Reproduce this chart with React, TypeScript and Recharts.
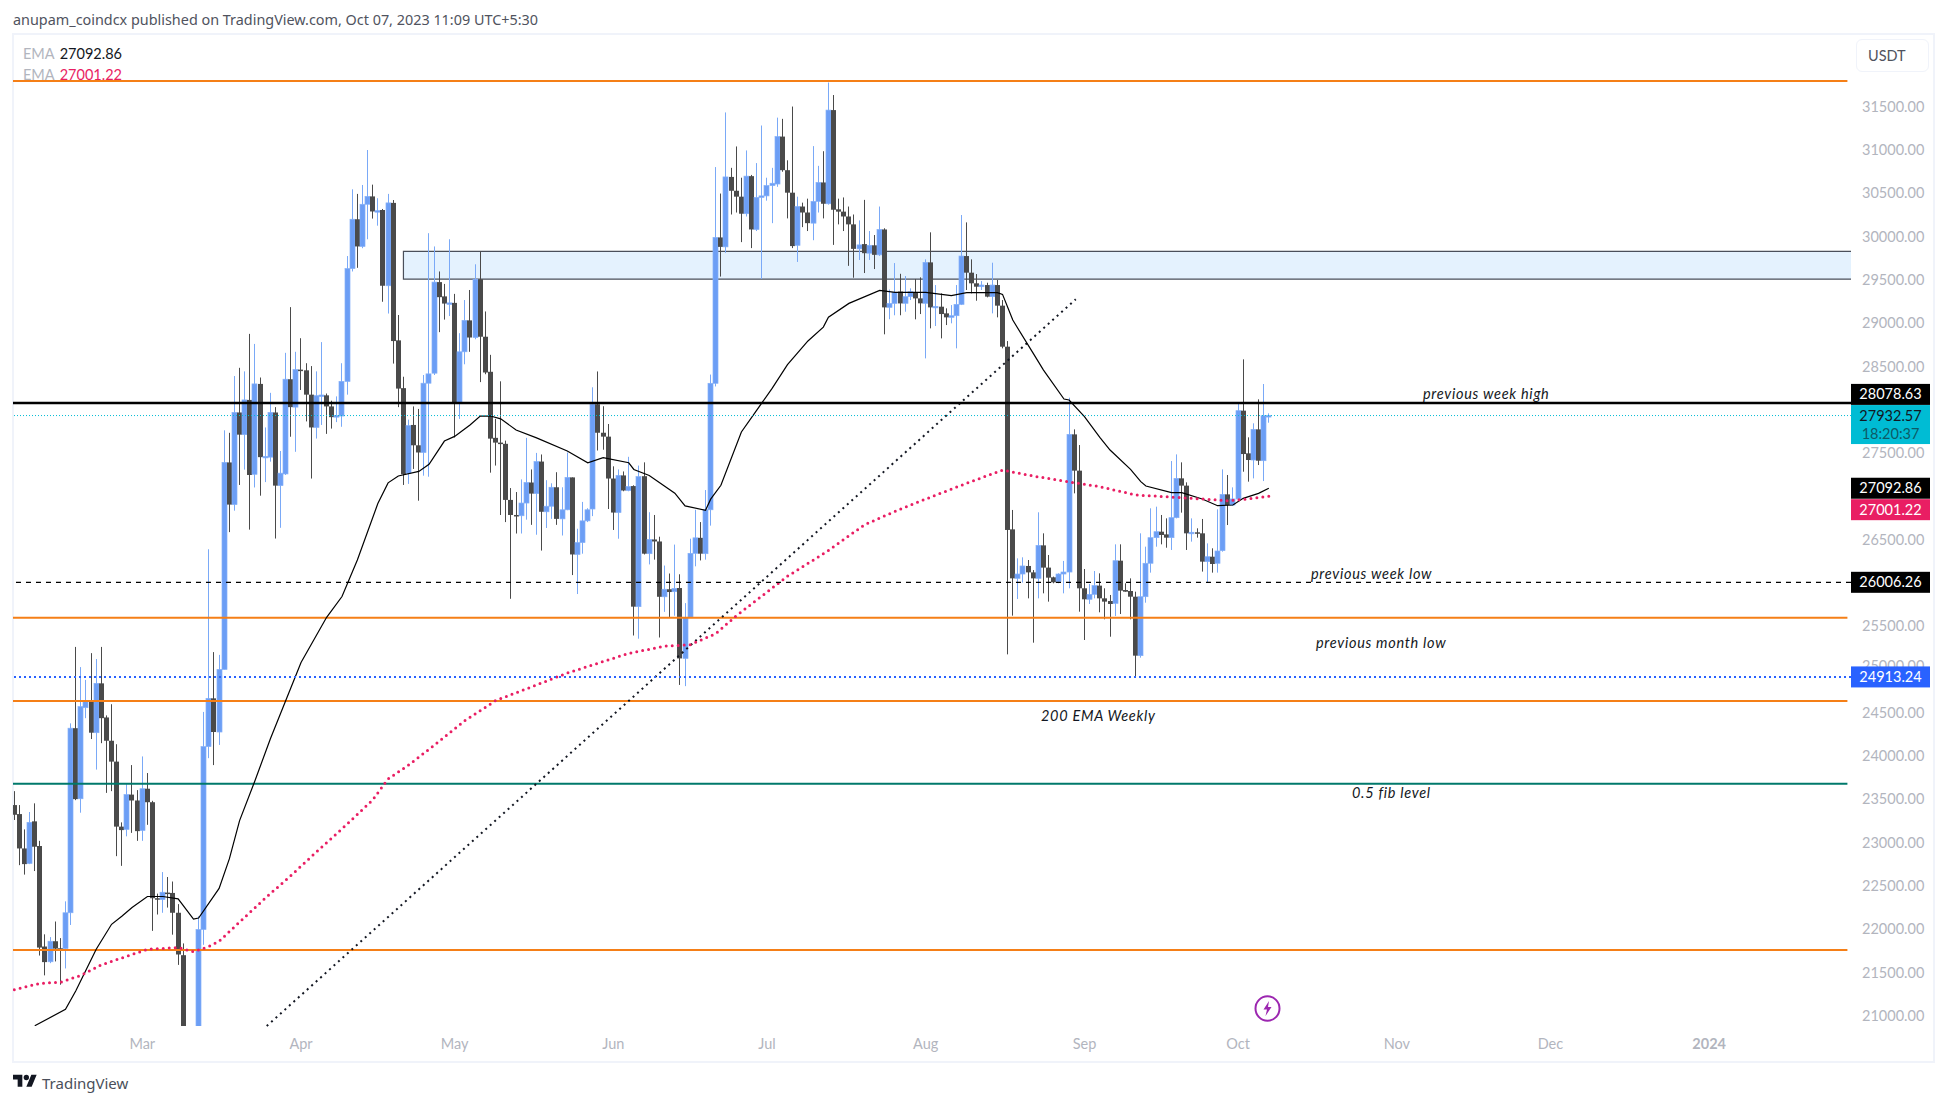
import {
  Bar,
  ComposedChart,
  Line,
  ReferenceArea,
  ReferenceLine,
  XAxis,
  YAxis,
} from "recharts";

const opens = [
  23433,23329,22932,22759,23245,22960,21799,21623,21860,21779,
  21775,22189,24321,23506,24558,24634,24269,24839,24445,24176,
  23935,23184,23152,23554,23486,23140,23622,23466,22357,22341,
  22422,22418,22189,21699,20150,20450,20620,21996,24108,24666,
  24277,25000,27391,26904,27968,27712,28113,27254,28298,27444,
  27452,27968,27123,27258,28352,28030,28463,28455,28174,27795,
  28162,28166,28038,27914,27927,28327,29630,30200,29886,30373,
  30464,30290,30307,29432,30389,28801,28249,27267,27824,27589,
  27506,28306,28422,29474,29309,29226,29234,28080,28669,29032,
  28834,29507,28843,28438,27675,27620,27606,26958,26784,26775,
  26922,27159,27031,27401,26821,26885,27104,26739,26844,27218,
  26328,26465,26716,26853,28063,27734,27689,27205,26812,27241,
  27067,27118,25725,27232,26337,26501,26478,25839,25926,25898,
  25940,25127,25597,26341,26520,26337,26844,28305,29990,29881,
  30689,30529,30461,30264,30698,30082,30452,30470,30589,30607,
  31155,30767,30507,29899,30347,30278,30155,30406,30625,30379,
  31461,30315,30288,30232,30141,29858,29913,29808,29899,29789,
  30082,29182,29228,29365,29229,29306,29352,29286,29229,29702,
  29182,29190,29113,29067,29086,29217,29775,29583,29460,29421,
  29440,29306,29440,29202,28728,26618,26052,26102,26195,26121,
  26052,26433,26176,26064,26014,26102,26125,27715,27296,25937,
  25810,25867,25968,25821,25790,25763,26256,25917,25906,25840,
  25159,25840,26226,26522,26591,26560,26522,26753,27207,27123,
  26572,26584,26572,26245,26302,26226,26372,27022,26899,26969,
  27989,27496,27419,27773,27411,27931,
];

const highs = [
  23594,23433,23152,23353,23453,23020,21940,21908,22088,21896,
  22321,24377,25260,25027,24879,25188,25120,25260,24469,24598,
  24136,23233,23674,23895,23606,23995,23803,23482,22410,22659,
  22602,22550,22289,21835,20700,20800,22149,24509,26388,25200,
  25168,27762,27733,28389,28484,28443,28876,28760,28372,27795,
  28195,28030,27523,28657,29185,28669,28826,28537,28504,28443,
  28781,28187,28104,28154,28537,29775,30546,30493,30596,31000,
  30600,30443,30319,30493,30422,29094,28381,27886,28038,28009,
  28401,30039,29886,29597,29453,29969,29338,28884,29267,29383,
  29680,29828,29135,28634,27894,28328,27643,27095,27049,27195,
  27675,27310,27501,27483,27186,27150,27278,27104,27506,27218,
  26625,26935,26862,28259,28442,28040,27835,27346,27310,27287,
  27456,27127,27355,27392,26816,26784,26533,26200,26108,26442,
  26099,25766,26510,26844,26702,27072,28406,30803,30497,31434,
  30794,31041,30680,30995,30712,30849,31283,30680,30794,31374,
  31360,30881,31502,30461,30392,30438,31045,30817,30986,31780,
  31635,30438,30452,30347,30255,30187,30424,30064,30018,30347,
  30096,29388,29694,29570,29544,29402,29510,29529,29737,30049,
  29440,29344,29171,29209,29440,30249,30164,29737,29567,29486,
  29467,29698,29498,29267,28793,26842,26283,26295,26264,26148,
  26815,26572,26322,26072,26110,26253,28139,27773,27592,26160,
  25987,26137,26110,25937,25860,26445,26445,25995,26052,25898,
  26572,26418,26861,26880,26784,26745,27407,27484,27392,27161,
  26745,26630,26738,26456,26399,26849,27311,27246,27103,28066,
  28582,27681,27843,28120,28297,27958,
];

const lows = [
  23261,22739,22630,22751,22671,21695,21466,21607,21627,21358,
  21546,22048,23490,23345,24437,24196,23843,24148,23574,23594,
  22843,22731,23072,23112,23020,23020,23205,21980,22169,22189,
  22249,21936,21587,20050,19600,20300,20500,21819,23975,23895,
  24128,25000,26586,26834,27131,27308,26615,27102,27007,27164,
  27400,26512,26636,27246,27688,27514,28228,27865,27205,27667,
  27824,27721,27782,27857,27803,28174,29597,29639,29866,29969,
  30208,30126,29247,29111,28533,28030,27131,27143,27316,26949,
  27238,27226,28401,28896,29041,29082,27679,27894,28525,28669,
  28814,28319,28410,27273,27355,26784,26702,25816,26570,26570,
  26730,26670,26556,26373,26634,26739,26670,26547,26839,26090,
  25871,26337,26702,26771,27529,27538,26853,26611,26510,27058,
  27058,25392,25355,26328,26213,26268,25369,25665,25606,25620,
  24821,24807,25597,26191,26259,26268,26661,28269,29538,29812,
  30255,30278,29936,30232,29867,30064,29511,30415,30155,30575,
  30749,30210,29867,29707,30109,30064,29958,30278,30210,30369,
  29904,30141,30064,29662,29525,29730,29579,29730,29625,29776,
  28871,29045,29091,29091,29132,29267,29044,29105,28593,28940,
  28967,28824,28978,28998,28709,29209,29383,29344,29259,29383,
  29298,29113,29067,28709,25174,25621,25814,26003,25821,25309,
  25821,25879,25783,25995,25995,25879,25937,27034,25667,25340,
  25756,25821,25660,25579,25378,25617,25640,25898,25579,24909,
  25136,25771,26118,26418,26445,26406,26380,26745,26811,26380,
  26476,26522,26130,26002,26118,26118,26360,26668,26891,26957,
  27284,27169,27207,27361,27176,27850,
];

const closes = [
  23321,22932,22751,23233,22952,21787,21619,21860,21775,21763,
  22189,24321,23502,24570,24634,24269,24839,24437,24176,23935,
  23184,23144,23554,23486,23132,23622,23466,22357,22341,22426,
  22418,22189,21707,20150,20450,20620,21996,24108,24666,24277,
  25000,27391,26904,27968,27712,28113,27246,28298,27452,27461,
  27968,27123,27267,28352,28030,28463,28455,28174,27795,28162,
  28170,28038,27914,27935,28327,29630,30200,29886,30373,30464,
  30290,30299,29432,30389,28793,28244,27254,27816,27589,27506,
  28306,28414,29474,29300,29226,29234,28080,28669,29032,28834,
  29507,28843,28430,27666,27620,27606,26958,26784,26775,26922,
  27159,27031,27401,26821,26885,27104,26739,26844,27218,26328,
  26465,26716,26844,28063,27734,27689,27205,26812,27241,27067,
  27113,25725,27227,26337,26501,26478,25839,25926,25894,25935,
  25127,25597,26341,26520,26337,26844,28305,29990,29881,30689,
  30529,30461,30264,30698,30082,30452,30470,30589,30616,31155,
  30767,30507,29890,30347,30278,30155,30406,30625,30379,31461,
  30310,30288,30232,30141,29858,29904,29808,29899,29789,30082,
  29182,29228,29356,29228,29306,29363,29286,29229,29702,29182,
  29194,29105,29067,29086,29217,29775,29583,29460,29421,29440,
  29306,29440,29202,28728,26611,26052,26102,26195,26121,26052,
  26433,26176,26060,26006,26102,26125,27715,27296,25937,25810,
  25867,25968,25821,25783,25756,26256,25910,25898,25840,25159,
  25840,26226,26522,26591,26553,26522,26753,27207,27123,26572,
  26584,26572,26245,26302,26218,26368,27022,26899,26969,27989,
  27488,27419,27773,27411,27931,27932.57,
];

// candle number -> value, every few candles
const ema50Days = [
  4,10,12,16,19,21,23,26,29,32,35,36,40,42,44,47,50,53,56,61,64,67,71,73,75,79,81,84,86,89,91,93,95,98,
  102,108,112,115,120,121,124,129,131,135,136,138,142,148,151,155,158,159,163,169,172,178,183,186,192,
  193,195,199,201,205,206,209,212,214,218,220,221,226,228,232,235,238,240,243,245,
];
const ema50Values = [
  20884,21073,21285,21767,22056,22149,22249,22377,22377,22349,22116,22128,22470,22811,23253,23714,24196,
  24638,25080,25602,25842,26264,26916,27155,27234,27287,27370,27638,27692,27824,27927,27927,27894,27766,
  27675,27524,27387,27446,27387,27310,27241,27036,26889,26839,26967,27127,27743,28246,28520,28794,28954,
  29068,29228,29379,29356,29356,29319,29352,29352,29332,29036,28651,28458,28124,28112,27920,27681,27534,
  27311,27169,27119,27042,27042,26969,26891,26899,26976,27034,27092.86,
];
const ema200Days = [
  0,5,9,13,17,23,26,32,35,38,40,45,49,54,59,65,70,73,77,82,88,94,101,108,114,120,127,132,137,141,147,151,
  159,166,173,180,186,193,199,205,212,219,225,232,237,241,245,
];
const ema200Values = [
  21301,21374,21386,21466,21587,21707,21767,21787,21739,21799,21860,22137,22357,22618,22891,23213,23494,
  23735,23895,24124,24409,24640,24798,24958,25072,25186,25268,25286,25414,25620,25894,26076,26373,26670,
  26851,27015,27150,27303,27234,27176,27111,27015,26995,26969,26949,26969,27001.22,
];

// 25000 sits half behind the blue price tag, 26000, 27000 and 28000 sit fully behind their tags
const priceTicks = [
  21000,21500,22000,22500,23000,23500,24000,24500,25500,26500,
  27500,28500,29000,29500,30000,30500,31000,31500,
];
const hiddenTick = 25000;
const monthTicks = [25,56,86,117,147,178,209,239,270,300,331];
const monthLabels = ["Mar","Apr","May","Jun","Jul","Aug","Sep","Oct","Nov","Dec","2024"];

const orangeLevels = [31797,25597,24634,21759];
const fibLevel = 23678;
const weekHigh = 28078.63;
const weekLow = 26006.26;
const monthLow = 24913.24;
const lastPrice = 27932.57;
const emaFast = 27092.86;
const emaSlow = 27001.22;

const tableData = opens.map((open, i) => {
  const a = ema50Days.indexOf(i);
  const b = ema200Days.indexOf(i);
  return {
    i,
    open,
    close: closes[i],
    high: highs[i],
    low: lows[i],
    range: [lows[i], highs[i]],
    ema50: a >= 0 ? ema50Values[a] : null,
    ema200: b >= 0 ? ema200Values[b] : null,
  };
});

const UI_FONT = "Lato, 'Noto Sans', sans-serif";
const BLUE = "#6c9ef5";
const DARK = "#4a4a4a";
const AXIS_GREY = "#b2b5be";

const Candle = (props: any) => {
  const { x, y, width, height, payload } = props;
  const { open, close, high, low } = payload;
  const up = close >= open;
  const perUnit = height / (high - low);
  const top = y + (high - Math.max(open, close)) * perUnit;
  const bottom = y + (high - Math.min(open, close)) * perUnit;
  const cx = Math.round(x + width / 2 - 0.5);
  return (
    <g>
      <rect x={cx} y={y} width={1} height={height} fill={up ? "#7aa9f7" : DARK} />
      <rect
        x={cx - 2}
        y={top}
        width={5}
        height={Math.max(bottom - top, 1.5)}
        fill={up ? BLUE : DARK}
        stroke={up ? "#85b0f8" : DARK}
        strokeWidth={up ? 0.7 : 0}
      />
    </g>
  );
};

const badge = (text: string, bg: string, color: string, shift: number, sub?: string) => (props: any) => {
  const { viewBox } = props;
  const left = viewBox.x + viewBox.width;
  const top = viewBox.y + shift - 10.5;
  return (
    <g>
      <rect x={left} y={top} width={79} height={sub ? 39 : 21} fill={bg} />
      <text x={left + 39.5} y={top + 10.5} dy="0.35em" textAnchor="middle" fontSize={14.5} fontFamily={UI_FONT} fill={color}>
        {text}
      </text>
      {sub ? (
        <text x={left + 39.5} y={top + 29} dy="0.35em" textAnchor="middle" fontSize={14.5} fontFamily={UI_FONT} fill="#0d5a66">
          {sub}
        </text>
      ) : null}
    </g>
  );
};

const priceLabel = (props: any) => {
  const { viewBox } = props;
  return (
    <text x={viewBox.x + viewBox.width + 11} y={viewBox.y - 4} dy="0.355em" fontSize={14.5} fontFamily={UI_FONT} fill={AXIS_GREY}>
      {hiddenTick.toFixed(2)}
    </text>
  );
};

const MonthTick = (props: any) => {
  const { x, y, payload } = props;
  const label = monthLabels[monthTicks.indexOf(payload.value)];
  return (
    <text
      x={x}
      y={y + 9.5}
      dy="0.35em"
      textAnchor="middle"
      fontSize={14.5}
      fontFamily={UI_FONT}
      fontWeight={label === "2024" ? 700 : 400}
      fill={AXIS_GREY}
    >
      {label}
    </text>
  );
};

const notes = [
  { text: "previous week high", x: 1423, y: 395 },
  { text: "previous week low", x: 1311, y: 575 },
  { text: "previous month low", x: 1316, y: 644 },
  { text: "200 EMA Weekly", x: 1041, y: 717 },
  { text: "0.5 fib level", x: 1352, y: 794 },
];

export default function App() {
  return (
    <div style={{ position: "absolute", left: 0, top: 0, width: 1946, height: 1105, background: "#fff", overflow: "hidden", fontFamily: UI_FONT }}>
      <div style={{ position: "absolute", left: 13, top: 10, fontSize: 14.4, color: "#50535e", whiteSpace: "nowrap", fontFamily: "'Noto Sans', sans-serif" }}>
        anupam_coindcx published on TradingView.com, Oct 07, 2023 11:09 UTC+5:30
      </div>
      <div style={{ position: "absolute", left: 12, top: 33, width: 1919, height: 1026, border: "2px solid #f0f3fa" }} />
      <div style={{ position: "absolute", left: 23, top: 45, fontSize: 14.5, whiteSpace: "nowrap" }}>
        <span style={{ color: AXIS_GREY, marginRight: 5 }}>EMA</span>
        <span style={{ color: "#131722" }}>27092.86</span>
      </div>
      <div style={{ position: "absolute", left: 23, top: 66, fontSize: 14.5, whiteSpace: "nowrap" }}>
        <span style={{ color: AXIS_GREY, marginRight: 5 }}>EMA</span>
        <span style={{ color: "#e91e63" }}>27001.22</span>
      </div>

      <div style={{ position: "absolute", left: 0, top: 0 }}>
        <ComposedChart
          width={1946}
          height={1105}
          data={tableData}
          margin={{ top: 34, right: 13, bottom: 44, left: 13 }}
          barSize={5}
        >
          <XAxis
            dataKey="i"
            type="number"
            domain={[-0.25, 358.7]}
            allowDataOverflow
            ticks={monthTicks}
            interval={0}
            height={35}
            tickLine={false}
            axisLine={false}
            tick={MonthTick}
          />
          <YAxis
            orientation="right"
            type="number"
            domain={[20881, 32340]}
            allowDataOverflow
            ticks={priceTicks}
            interval={0}
            width={82}
            tickSize={0}
            tickMargin={11}
            axisLine={false}
            tick={{ fill: AXIS_GREY, fontSize: 14.5, fontFamily: UI_FONT }}
            tickFormatter={(v: number) => v.toFixed(2)}
          />

          <Bar dataKey="range" shape={Candle} isAnimationActive={false} />

          <ReferenceArea
            x1={76}
            x2={362}
            y1={29508}
            y2={29828}
            ifOverflow="hidden"
            fill="#2196f3"
            fillOpacity={0.12}
            stroke="#4a4f5a"
            strokeWidth={1.2}
          />

          {orangeLevels.map((level) => (
            <ReferenceLine
              key={level}
              segment={[{ x: -0.25, y: level }, { x: 358, y: level }]}
              stroke="#f57f17"
              strokeWidth={2}
            />
          ))}
          <ReferenceLine
            segment={[{ x: -0.25, y: fibLevel }, { x: 358, y: fibLevel }]}
            stroke="#00796b"
            strokeWidth={2}
          />
          <ReferenceLine
            segment={[{ x: 49.3, y: 20881 }, { x: 207.3, y: 29275 }]}
            stroke="#131722"
            strokeWidth={2}
            strokeDasharray="2 4"
          />

          <Line dataKey="ema50" stroke="#000" strokeWidth={1.2} dot={false} connectNulls isAnimationActive={false} />
          <Line
            dataKey="ema200"
            stroke="#e91e63"
            strokeWidth={3}
            strokeDasharray="0 6"
            strokeLinecap="round"
            dot={false}
            connectNulls
            isAnimationActive={false}
          />

          <ReferenceLine y={lastPrice} stroke="#00bcd4" strokeWidth={1} strokeDasharray="1 2" label={badge("27932.57", "#00bcd4", "#131722", 0, "18:20:37")} />
          <ReferenceLine y={weekHigh} stroke="#000" strokeWidth={2.5} label={badge("28078.63", "#000", "#fff", -8.5)} />
          <ReferenceLine y={weekLow} stroke="#000" strokeWidth={1.2} strokeDasharray="5 5" label={badge("26006.26", "#000", "#fff", 0)} />
          <ReferenceLine y={hiddenTick} stroke="none" label={priceLabel} />
          <ReferenceLine y={monthLow} stroke="#2962ff" strokeWidth={2} strokeDasharray="2 3" label={badge("24913.24", "#2962ff", "#fff", 0)} />
          <ReferenceLine y={emaFast} stroke="none" label={badge("27092.86", "#000", "#fff", 0)} />
          <ReferenceLine y={emaSlow} stroke="none" label={badge("27001.22", "#e91e63", "#fff", 13.5)} />
        </ComposedChart>
      </div>

      {notes.map((n) => (
        <div
          key={n.text}
          style={{ position: "absolute", left: n.x, top: n.y - 10, fontSize: 14.5, fontStyle: "italic", color: "#131722", whiteSpace: "nowrap", letterSpacing: 0.7 }}
        >
          {n.text}
        </div>
      ))}

      <div style={{ position: "absolute", left: 1856, top: 39, width: 71, height: 31, border: "1.5px solid #f0f3fa", borderRadius: 6, fontSize: 14.5, lineHeight: "31px", color: "#50535e", textIndent: 11 }}>
        USDT
      </div>

      <svg style={{ position: "absolute", left: 1254, top: 995 }} width={27} height={27} viewBox="0 0 27 27">
        <ellipse cx={13.5} cy={13.5} rx={12} ry={12.2} fill="#fff" stroke="#9c27b0" strokeWidth={2} />
        <path d="M15 6 L9.5 14.5 L13 14.5 L11.5 21 L17.5 12 L14 12 Z" fill="#9c27b0" />
      </svg>

      <svg style={{ position: "absolute", left: 13, top: 1072 }} width={24} height={19} viewBox="0 0 36 28">
        <path d="M14 22H7V11H0V4h14v18zM28 22h-8l7.5-18h8L28 22z" fill="#131722" />
        <circle cx={20} cy={8} r={4} fill="#131722" />
      </svg>
      <div style={{ position: "absolute", left: 42, top: 1073, fontSize: 15, color: "#4a4f5a", fontFamily: "'Noto Sans', sans-serif" }}>
        TradingView
      </div>
    </div>
  );
}
